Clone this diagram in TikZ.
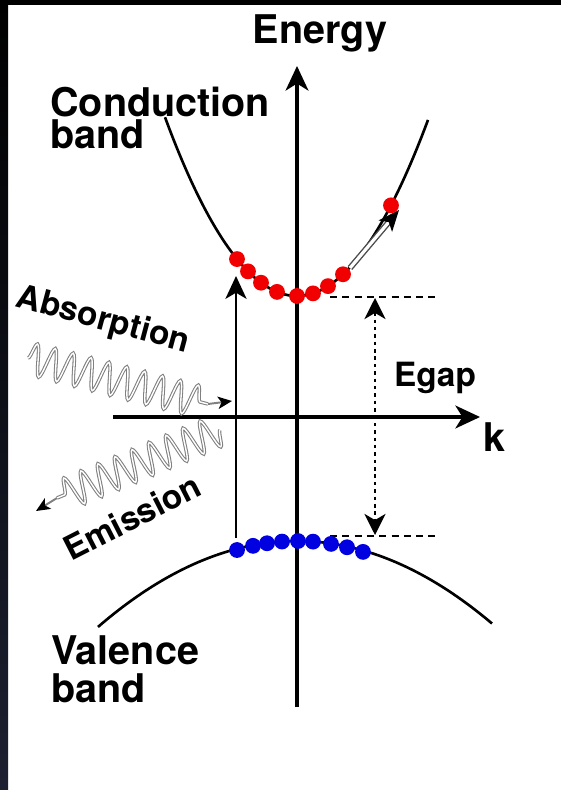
\documentclass[tikz,border=0pt]{standalone}
\usepackage{fontspec}
\setmainfont{TeX Gyre Heros}
\usetikzlibrary{arrows.meta, decorations.pathmorphing}

\definecolor{dotred}{RGB}{240,0,0}
\definecolor{dotblue}{RGB}{0,0,225}
\definecolor{framenavy}{RGB}{28,32,48}

\begin{document}
\begin{tikzpicture}[
  x=0.02cm, y=-0.02cm,
  axis/.style={line width=1.8pt, -{Stealth[length=14pt, width=13pt, inset=4pt]}},
  pump/.style={line width=1.6pt, -{Stealth[length=13pt, width=12pt, inset=3.5pt]}},
  bandline/.style={line width=1.5pt},
  electron/.style={circle, fill=dotred, minimum size=9pt, inner sep=0pt},
  hole/.style={circle, fill=dotblue, minimum size=9pt, inner sep=0pt},
  levelline/.style={line width=1.4pt, dash pattern=on 4pt off 3pt},
  gaparrow/.style={line width=1.4pt, dash pattern=on 2pt off 2.2pt,
    {Stealth[length=12pt, width=12pt, inset=3.5pt]}-{Stealth[length=12pt, width=12pt, inset=3.5pt]}},
  hollow/.style={draw=black!70, double=white, line width=0.8pt, double distance=1.8pt,
    -{Stealth[length=12pt, width=10pt, inset=3pt, black]}},
  photon/.style={draw=gray, double=white, line width=0.6pt, double distance=0.8pt,
    decorate, decoration={snake, segment length=10.5pt, amplitude=9pt}},
  photontip/.style={draw=gray, line width=1.1pt, -{Stealth[length=8pt, width=7pt, inset=2pt, black]}},
  lbl/.style={font=\fontsize{22.5}{26}\selectfont\bfseries, inner sep=0pt},
  smalllbl/.style={font=\fontsize{19}{23}\selectfont\bfseries, inner sep=0pt},
]

%% ============ FRAME ============
\fill[white] (0,0) rectangle (561,790);
\fill[black] (0,0) rectangle (561,5);
\shade[top color=black, bottom color=framenavy] (0,0) rectangle (8,790);
\useasboundingbox (0,0) rectangle (561,790);

%% ============ AXES ============
\coordinate (kstart) at (113,417);
\coordinate (kend) at (480,417);
\coordinate (ebot) at (297,707);
\coordinate (etop) at (297,66);
\draw[axis] (kstart) -- (kend);
\draw[axis] (ebot) -- (etop);

\node[lbl] (energy) at (320,33) {Energy};
\node[lbl] (klbl) at (494,437) {k};

%% ============ BANDS ============
% conduction band
\draw[bandline] plot[domain=165:428, samples=80] (\x, {296-1.026*((\x-297)/10)^2});
% valence band
\draw[bandline] plot[domain=98:492, samples=80] (\x, {541+0.217*((\x-297)/10)^2});

\node[lbl, anchor=base west] (cond) at (50,117) {Conduction};
\node[lbl, anchor=base west] (condb) at (50,149) {band};
\node[lbl, anchor=base west] (val) at (51,664) {Valence};
\node[lbl, anchor=base west] (valb) at (51,702) {band};

%% ============ BAND GAP ============
\coordinate (cl1) at (330,297);
\coordinate (cl2) at (438,297);
\coordinate (vl1) at (330,536);
\coordinate (vl2) at (438,536);
\draw[levelline] (cl1) -- (cl2);
\draw[levelline] (vl1) -- (vl2);

\coordinate (gtop) at (375,298);
\coordinate (gbot) at (375,535);
\draw[gaparrow] (gtop) -- (gbot);
\node[smalllbl] (egap) at (435,378) {Egap};

%% ============ TRANSITIONS ============
\coordinate (abot) at (236,538);
\coordinate (atop) at (236,276);
\draw[pump] (abot) -- (atop);

\coordinate (mvs) at (350,268);
\coordinate (mve) at (399,210);
\draw[hollow] (mvs) -- (mve);

%% ---- photons ----
\coordinate (abs0) at (28,358);
\coordinate (abs1) at (208,404);
\coordinate (abs2) at (232,401);
\draw[photon] (abs0) -- (abs1);
\draw[photontip] (abs1) -- (abs2);
\node[smalllbl, rotate=-15] (absl) at (103,321) {Absorption};

\coordinate (em0) at (220,430);
\coordinate (em1) at (57,498);
\coordinate (em2) at (36,511);
\draw[photon] (em0) -- (em1);
\draw[photontip] (em1) -- (em2);
\node[smalllbl, rotate=27] (emil) at (132,517) {Emission};

%% ============ CARRIERS ============
\foreach \x [count=\i] in {237,248,261,277,297,313,328,343,391}
  \node[electron] (e\i) at (\x, {296-1.026*((\x-297)/10)^2}) {};
\foreach \x [count=\i] in {237,253,267,282,298,313,331,347,363}
  \node[hole] (h\i) at (\x, {541+0.25*((\x-297)/10)^2}) {};

\end{tikzpicture}
\end{document}
